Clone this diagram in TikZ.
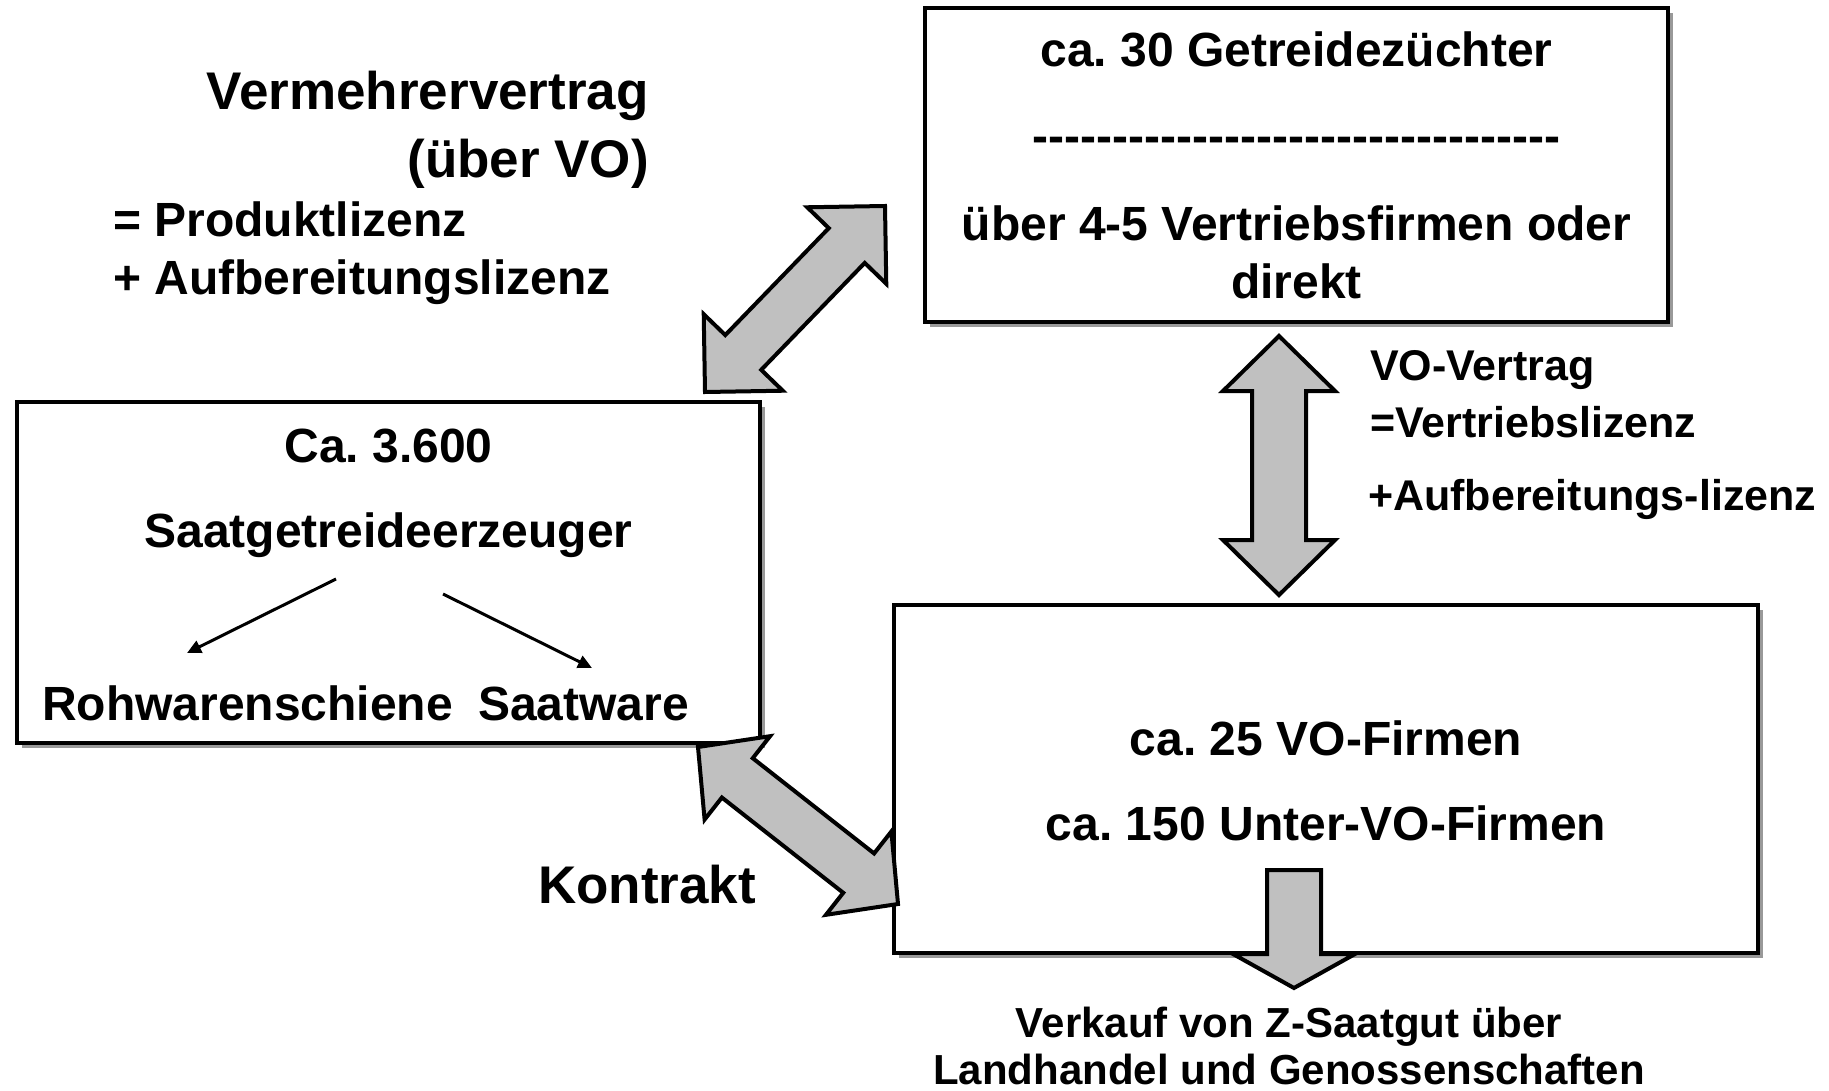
\documentclass[tikz,border=0pt]{standalone}
\usepackage{fontspec}
\setmainfont{Liberation Sans}
\newfontfamily\dashfont{Liberation Sans}
\usetikzlibrary{calc,arrows.meta,shadows}
\definecolor{arrowgray}{HTML}{C0C0C0}
\newcommand\blockdbl[5]{%
  \coordinate (#1-h) at ($(#1)!#5!(#2)$);
  \coordinate (#2-h) at ($(#2)!#5!(#1)$);
  \draw[blockarrow] (#1)
    -- ($(#1-h)!#4!90:(#2)$) -- ($(#1-h)!#3!90:(#2)$)
    -- ($(#2-h)!#3!-90:(#1)$) -- ($(#2-h)!#4!-90:(#1)$)
    -- (#2)
    -- ($(#2-h)!#4!90:(#1)$) -- ($(#2-h)!#3!90:(#1)$)
    -- ($(#1-h)!#3!-90:(#2)$) -- ($(#1-h)!#4!-90:(#2)$)
    -- cycle;
}
\frenchspacing
\begin{document}
\begin{tikzpicture}[x=1pt,y=-1pt,
  box/.style={draw=black, line width=4.5pt, fill=white, inner sep=0pt,
    drop shadow={shadow xshift=5pt, shadow yshift=-5pt, fill=black!40, opacity=1}},
  blockarrow/.style={draw=black, line width=4pt, fill=arrowgray, line join=miter},
  fbig/.style={inner sep=0pt, font=\bfseries\fontsize{53}{64}\selectfont},
  fmid/.style={inner sep=0pt, font=\bfseries\fontsize{48}{58}\selectfont},
  fsmall/.style={inner sep=0pt, font=\bfseries\fontsize{43}{52}\selectfont},
  fnote/.style={inner sep=0pt, font=\bfseries\fontsize{42}{50}\selectfont},
  thin/.style={line width=3pt, -{Triangle[length=14pt,width=13pt]}}
]
\useasboundingbox (0,0) rectangle (1829,1091);

% boxes
\node[box, minimum width=743pt, minimum height=314pt] (zuechter) at (1296.5,165) {};
\node[box, minimum width=743pt, minimum height=341pt] (erzeuger) at (388.5,572.5) {};
\node[box, minimum width=864pt, minimum height=348pt] (vofirmen) at (1326,779) {};

% top box text
\node[fmid, anchor=base] (z1) at (1296.5,67) {ca. 30 Getreidezüchter};
\node[fmid, anchor=base] (z2) at (1296.5,153) {\dashfont\bfseries ---------------------------------};
\node[fmid, anchor=base] (z3) at (1296.5,241) {über 4-5 Vertriebsfirmen oder};
\node[fmid, anchor=base] (z4) at (1296.5,299) {direkt};

% left box text
\node[fmid, anchor=base] (e1) at (388.5,462) {Ca. 3.600};
\node[fmid, anchor=base] (e2) at (388.5,547) {Saatgetreideerzeuger};
\node[fmid, anchor=base west] (roh) at (42,720) {Rohwarenschiene};
\node[fmid, anchor=base west] (saat) at (478,720) {Saatware};
\coordinate (s1a) at (336,579);
\coordinate (s1b) at (187,653);
\coordinate (s2a) at (443,594);
\coordinate (s2b) at (592,668);
\draw[thin] (s1a) -- (s1b);
\draw[thin] (s2a) -- (s2b);

% bottom right box text
\node[fmid, anchor=base] (v1) at (1326,755) {ca. 25 VO-Firmen};
\node[fmid, anchor=base] (v2) at (1326,840) {ca. 150 Unter-VO-Firmen};

% free labels
\node[fbig, anchor=base east] (l1) at (649,110) {Vermehrervertrag};
\node[fbig, anchor=base east] (l2) at (649,178) {(über VO)};
\node[fmid, anchor=base west] (l3) at (113,237) {= Produktlizenz};
\node[fmid, anchor=base west] (l4) at (113,295) {+ Aufbereitungslizenz};

\node[fsmall, anchor=base west] (r1) at (1370,380) {VO-Vertrag};
\node[fsmall, anchor=base west] (r2) at (1370,437) {=Vertriebslizenz};
\node[fsmall, anchor=base west] (r3) at (1368,510) {+Aufbereitungs-lizenz};

\node[fbig, anchor=base] (kon) at (647,903) {Kontrakt};

\node[fnote, anchor=base] (n1) at (1289,1037) {Verkauf von Z-Saatgut über};
\node[fnote, anchor=base] (n2) at (1289,1084) {Landhandel und Genossenschaften};

% block arrows
\coordinate (a1s) at (705,392);
\coordinate (a1e) at (885,206);
\blockdbl{a1s}{a1e}{25pt}{55pt}{55pt}

\coordinate (a2s) at (1279,336);
\coordinate (a2e) at (1279,595);
\blockdbl{a2s}{a2e}{27pt}{56pt}{55pt}

\coordinate (a3s) at (698,747);
\coordinate (a3e) at (898,904);
\blockdbl{a3s}{a3e}{25pt}{53pt}{50pt}

% single down arrow
\coordinate (d0) at (1294,870);
\coordinate (d1) at (1294,988);
\draw[blockarrow] ($(d0)+(-27,0)$) -- ($(d0)+(27,0)$) -- ($(d1)+(27,-34)$)
  -- ($(d1)+(61,-34)$) -- (d1) -- ($(d1)+(-61,-34)$) -- ($(d1)+(-27,-34)$) -- cycle;
\end{tikzpicture}
\end{document}
